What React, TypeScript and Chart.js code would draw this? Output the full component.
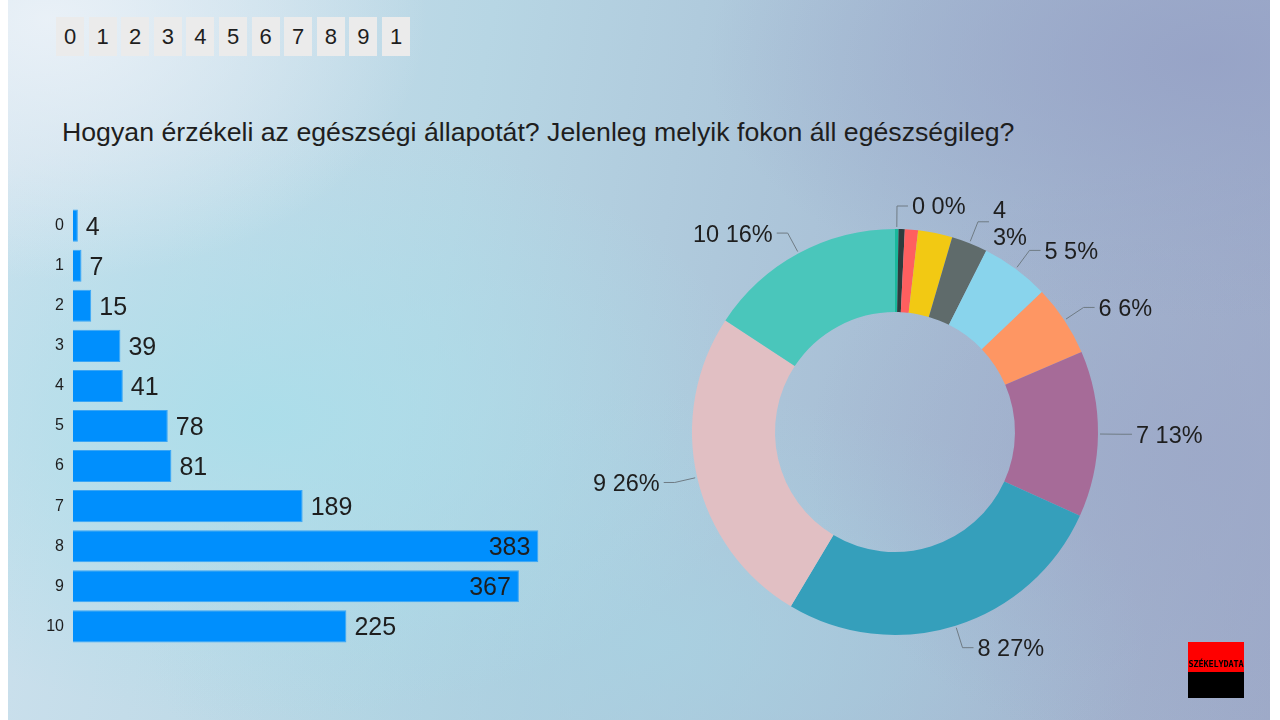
import React, { useEffect, useRef } from "react";
import { Chart, registerables } from "chart.js";

Chart.register(...registerables);

// ---- data ----
const categories = ["0", "1", "2", "3", "4", "5", "6", "7", "8", "9", "10"];
const counts = [4, 7, 15, 39, 41, 78, 81, 189, 383, 367, 225];
const sliceColors = [
  "#19b89c", "#2e3c3d", "#ff5f5f", "#f2c913", "#5f6b6b", "#89d4ec",
  "#fe9663", "#a66b98", "#359fbb", "#e1bfc3", "#4ac6bb",
];
const hiddenPieLabels = ["1", "2", "3"];
const wrappedPieLabels = ["4"];
const headerDigits = ["0", "1", "2", "3", "4", "5", "6", "7", "8", "9", "1"];
const titleText =
  "Hogyan érzékeli az egészségi állapotát? Jelenleg melyik fokon áll egészségileg?";
const barAxisMax = 400;

const FONT = "'Liberation Sans', Arial, Helvetica, sans-serif";
const TEXT = "#1e1e1e";

const barValuePlugin = {
  id: "barValues",
  afterDatasetsDraw(chart: any) {
    const { ctx, chartArea } = chart;
    const meta = chart.getDatasetMeta(0);
    const data = chart.data.datasets[0].data as number[];
    ctx.save();
    ctx.font = `25px ${FONT}`;
    ctx.fillStyle = TEXT;
    ctx.textBaseline = "middle";
    meta.data.forEach((bar: any, i: number) => {
      const label = String(data[i]);
      const w = ctx.measureText(label).width;
      const gap = 8;
      if (bar.x + gap + w > chartArea.right) {
        ctx.textAlign = "right";
        ctx.fillText(label, bar.x - gap, bar.y + 2);
      } else {
        ctx.textAlign = "left";
        ctx.fillText(label, bar.x + gap, bar.y + 2);
      }
    });
    ctx.restore();
  },
};

const pieLabelPlugin = {
  id: "pieLabels",
  afterDatasetsDraw(chart: any) {
    const { ctx } = chart;
    const meta = chart.getDatasetMeta(0);
    const data = chart.data.datasets[0].data as number[];
    const labels = chart.data.labels as string[];
    const total = data.reduce((a, b) => a + b, 0);
    ctx.save();
    ctx.font = `23.5px ${FONT}`;
    ctx.textBaseline = "middle";
    meta.data.forEach((arc: any, i: number) => {
      const cat = labels[i];
      if (hiddenPieLabels.includes(cat)) return;
      const { x, y, startAngle, endAngle, outerRadius } = arc.getProps(
        ["x", "y", "startAngle", "endAngle", "outerRadius"],
        true
      );
      const mid = (startAngle + endAngle) / 2;
      const c = Math.cos(mid);
      const s = Math.sin(mid);
      const x0 = x + c * (outerRadius + 2);
      const y0 = y + s * (outerRadius + 2);
      const x1 = x + c * (outerRadius + 23);
      const y1 = y + s * (outerRadius + 23);
      const dir = c >= 0 ? 1 : -1;
      const x2 = x1 + dir * 11;
      ctx.strokeStyle = "#6f7b84";
      ctx.lineWidth = 1;
      ctx.beginPath();
      ctx.moveTo(x0, y0);
      ctx.lineTo(x1, y1);
      ctx.lineTo(x2, y1);
      ctx.stroke();
      const pct = Math.round((data[i] / total) * 100);
      const lines = wrappedPieLabels.includes(cat)
        ? [cat, `${pct}%`]
        : [`${cat} ${pct}%`];
      ctx.fillStyle = TEXT;
      ctx.textAlign = dir > 0 ? "left" : "right";
      const shift = lines.length > 1 ? 3 : 2;
      lines.forEach((ln, k) => {
        ctx.fillText(ln, x2 + dir * 4, y1 + shift + (k - (lines.length - 1) / 2) * 27);
      });
    });
    ctx.restore();
  },
};

function BarChart() {
  const ref = useRef<HTMLCanvasElement>(null);
  useEffect(() => {
    const chart = new Chart(ref.current!, {
      type: "bar",
      data: {
        labels: categories,
        datasets: [
          {
            data: counts,
            backgroundColor: "#008ffd",
            borderColor: "#3aa6f5",
            borderWidth: 1,
            barPercentage: 1,
            categoryPercentage: 0.8,
          },
        ],
      },
      options: {
        indexAxis: "y",
        animation: false,
        responsive: false,
        events: [],
        layout: { padding: 0, autoPadding: false },
        plugins: { legend: { display: false }, tooltip: { enabled: false } },
        scales: {
          x: { display: false, min: 0, max: barAxisMax },
          y: {
            grid: { display: false, drawTicks: false },
            border: { display: false },
            ticks: { color: TEXT, font: { size: 16, family: FONT }, padding: 9 },
            afterFit: (scale: any) => {
              scale.width = 53;
            },
          },
        },
      },
      plugins: [barValuePlugin],
    });
    return () => chart.destroy();
  }, []);
  return (
    <canvas
      ref={ref}
      width={539}
      height={478}
      style={{ position: "absolute", left: 20, top: 187, width: 539, height: 478 }}
    />
  );
}

function DoughnutChart() {
  const ref = useRef<HTMLCanvasElement>(null);
  useEffect(() => {
    const chart = new Chart(ref.current!, {
      type: "doughnut",
      data: {
        labels: categories,
        datasets: [
          {
            data: counts,
            backgroundColor: sliceColors,
            borderWidth: 0,
            hoverOffset: 0,
          },
        ],
      },
      options: {
        animation: false,
        responsive: false,
        events: [],
        radius: 203,
        cutout: "59.1%",
        layout: { padding: 0 },
        plugins: { legend: { display: false }, tooltip: { enabled: false } },
      },
      plugins: [pieLabelPlugin],
    });
    return () => chart.destroy();
  }, []);
  return (
    <canvas
      ref={ref}
      width={720}
      height={560}
      style={{ position: "absolute", left: 535, top: 152, width: 720, height: 560 }}
    />
  );
}

export default function App() {
  return (
    <div
      style={{
        position: "fixed",
        left: 0,
        top: 0,
        width: 1280,
        height: 720,
        background: "#ffffff",
        overflow: "hidden",
        fontFamily: FONT,
      }}
    >
      <div
        style={{
          position: "absolute",
          left: 8,
          top: 0,
          width: 1262,
          height: 720,
          background: [
            "radial-gradient(ellipse 380px 260px at 40px 20px, rgba(236,242,248,0.9), rgba(236,242,248,0) 100%)",
            "radial-gradient(ellipse 500px 300px at 260px 420px, rgba(170,222,234,0.9), rgba(170,222,234,0) 100%)",
            "radial-gradient(ellipse 500px 260px at 1200px 60px, rgba(150,162,198,0.9), rgba(150,162,198,0) 100%)",
            "radial-gradient(ellipse 400px 300px at 1200px 460px, rgba(156,168,200,0.8), rgba(156,168,200,0) 100%)",
            "radial-gradient(ellipse 500px 250px at 640px 640px, rgba(168,210,226,0.8), rgba(168,210,226,0) 100%)",
            "linear-gradient(100deg, #cfe2ee 0%, #b7d6e4 35%, #a9c0d6 65%, #9eaac8 100%)",
          ].join(", "),
        }}
      />
      {headerDigits.map((d, i) => (
        <div
          key={i}
          style={{
            position: "absolute",
            left: 56 + i * 32.6,
            top: 17,
            width: 28,
            height: 39,
            background: "#ebebeb",
            color: TEXT,
            fontSize: 22,
            lineHeight: "39px",
            textAlign: "center",
          }}
        >
          {d}
        </div>
      ))}
      <div
        style={{
          position: "absolute",
          left: 62,
          top: 119,
          fontSize: 26.7,
          lineHeight: "27px",
          color: TEXT,
          whiteSpace: "nowrap",
        }}
      >
        {titleText}
      </div>
      <BarChart />
      <DoughnutChart />
      <div
        style={{
          position: "absolute",
          left: 1188,
          top: 642,
          width: 56,
          height: 56,
          background: "linear-gradient(#ff0000 0%, #ff0000 53%, #000000 53%, #000000 100%)",
        }}
      >
        <div
          style={{
            position: "absolute",
            left: 0,
            top: 17,
            width: 56,
            textAlign: "center",
            fontFamily: "'DejaVu Sans Mono', monospace",
            fontWeight: "bold",
            fontSize: 8.5,
            letterSpacing: -0.1,
            color: "#000",
          }}
        >
          SZÉKELYDATA
        </div>
      </div>
    </div>
  );
}
